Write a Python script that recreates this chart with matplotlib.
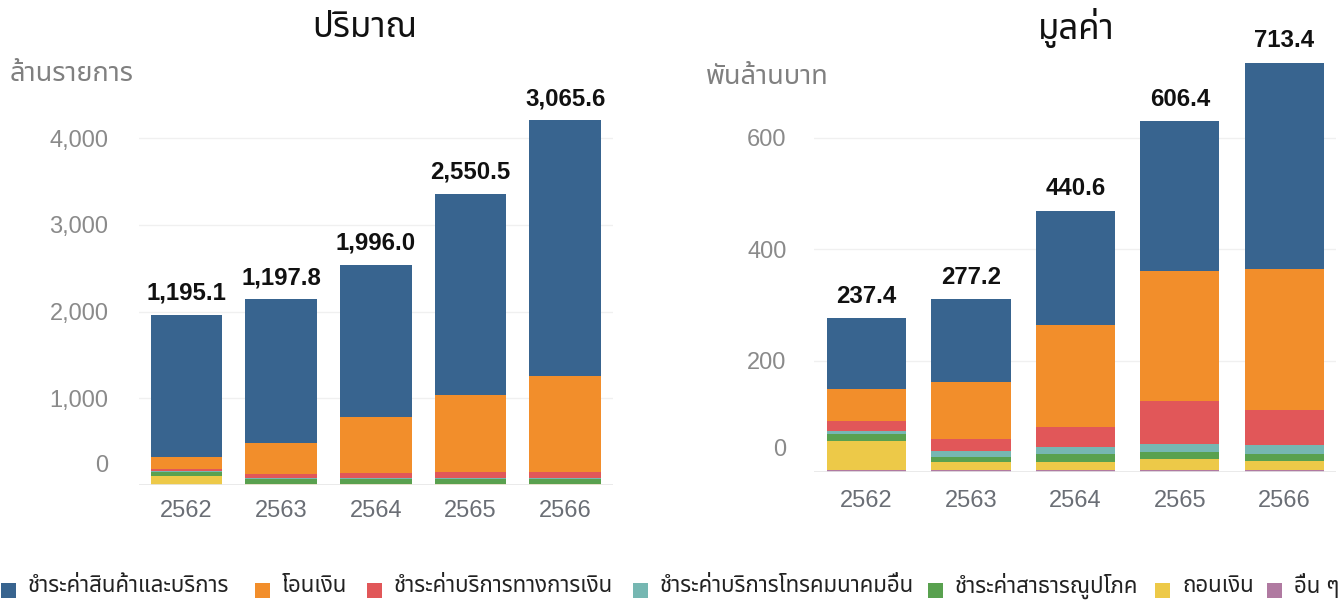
import matplotlib
matplotlib.use("Agg")
import matplotlib.pyplot as plt
from matplotlib import font_manager, ft2font
from matplotlib.patches import Rectangle
from matplotlib.transforms import ScaledTranslation
import numpy as np

# ---------------- data ----------------
years = ["2562", "2563", "2564", "2565", "2566"]
series_names = ["ชำระค่าสินค้าและบริการ", "โอนเงิน", "ชำระค่าบริการทางการเงิน",
                "ชำระค่าบริการโทรคมนาคมอื่น", "ชำระค่าสาธารณูปโภค", "ถอนเงิน", "อื่น ๆ"]
colors = ["#38648f", "#f28e2b", "#e15759", "#76b7b2", "#59a14f", "#edc948", "#b07aa1"]

# volume (million transactions)
vol_other    = [1, 1, 1, 1, 1]
vol_withdraw = [103, 14, 11, 11, 11]
vol_utility  = [50, 55, 58, 58, 54]
vol_telecom  = [10, 12, 12, 12, 12]
vol_finserv  = [18, 46, 58, 73, 69]
vol_transfer = [142, 354, 648, 888, 1110]
vol_goods    = [1638, 1660, 1750, 2320, 2950]
vol_labels   = ["1,195.1", "1,197.8", "1,996.0", "2,550.5", "3,065.6"]

# value (billion baht)
val_other    = [3.5, 3.5, 3.5, 3.5, 3.5]
val_withdraw = [52.5, 14.3, 14.3, 19.7, 17.3]
val_utility  = [13.2, 10.2, 15.5, 12.5, 12.5]
val_telecom  = [4.7, 10.2, 12.0, 14.9, 14.9]
val_finserv  = [18.0, 20.9, 35.9, 78.0, 63.3]
val_transfer = [57.4, 103.4, 182.4, 233.0, 253.0]
val_goods    = [126.6, 147.7, 205.5, 268.0, 370.0]
val_labels   = ["237.4", "277.2", "440.6", "606.4", "713.4"]

vol_ticks = [0, 1000, 2000, 3000, 4000]
vol_ticklabels = ["0", "1,000", "2,000", "3,000", "4,000"]
val_ticks = [0, 200, 400, 600]
val_ticklabels = ["0", "200", "400", "600"]

# ---------------- fonts ----------------
thai_font = None
prefs = []
for f in font_manager.fontManager.ttflist:
    try:
        cmap = ft2font.FT2Font(f.fname).get_charmap()
    except Exception:
        continue
    if 0x0E1B in cmap and 0x0E33 in cmap:
        prefs.append(f.name)
for cand in ["Noto Sans Thai", "Noto Sans Thai UI", "Sarabun", "Kanit", "Prompt", "Loma", "Garuda", "Norasi"]:
    if cand in prefs:
        thai_font = cand
        break
if thai_font is None and prefs:
    thai_font = prefs[0]
thai_family = ([thai_font] if thai_font else []) + ["DejaVu Sans"]
num_family = ["Liberation Sans", "DejaVu Sans"]

plt.rcParams["font.family"] = num_family

W, H = 1342, 600
fig = plt.figure(figsize=(W / 100, H / 100), dpi=100)

def px_axes(x0, x1, ybot, ytop):
    return fig.add_axes([x0 / W, 1 - ybot / H, (x1 - x0) / W, (ybot - ytop) / H])

ax1 = px_axes(139, 612.5, 485, 100)
ax2 = px_axes(814.4, 1336.4, 472.3, 55)

vol_stack = [vol_goods, vol_transfer, vol_finserv, vol_telecom, vol_utility, vol_withdraw, vol_other]
val_stack = [val_goods, val_transfer, val_finserv, val_telecom, val_utility, val_withdraw, val_other]

def draw(ax, stack, labels, ticks, ticklabels, ymax, zero_shift_px, xpad, ypad):
    x = np.arange(len(years))
    bottom = np.zeros(len(years))
    for vals, col in reversed(list(zip(stack, colors))):
        ax.bar(x, vals, width=0.757, bottom=bottom, color=col, linewidth=0, zorder=3)
        bottom = bottom + np.array(vals)
    for xi, top, lab in zip(x, bottom, labels):
        ax.annotate(lab, (xi, top), xytext=(0, 11), textcoords="offset points",
                    ha="center", va="baseline", fontsize=17.3, fontweight="bold",
                    color="#111111", family=num_family)
    ax.set_xlim(-0.5, len(years) - 0.5)
    ax.set_ylim(0, ymax)
    ax.set_xticks(x)
    ax.set_xticklabels(years, fontsize=17, color="#6a6e75")
    ax.set_yticks(ticks)
    ax.set_yticklabels(ticklabels, fontsize=17, color="#8a8a8a")
    ax.tick_params(axis="both", length=0)
    ax.tick_params(axis="y", pad=ypad)
    ax.tick_params(axis="x", pad=xpad)
    for s in ax.spines.values():
        s.set_visible(False)
    for t in ticks[1:]:
        ax.axhline(t, color="#f0f0f0", linewidth=1, zorder=1)
    ax.axhline(0, color="#e6e6e6", linewidth=1.2, zorder=4)
    lbl = ax.get_yticklabels()[0]
    lbl.set_transform(lbl.get_transform() + ScaledTranslation(0, zero_shift_px / 100, fig.dpi_scale_trans))

draw(ax1, vol_stack, vol_labels, vol_ticks, vol_ticklabels, (485 - 100) / 0.086667, 22, 11, 22)
draw(ax2, val_stack, val_labels, val_ticks, val_ticklabels, (472.3 - 55) / 0.5577, 24.5, 13, 20)

# titles and axis unit labels
fig.text(365 / W, 1 - 28 / H, "ปริมาณ", ha="center", va="center", fontsize=25,
         color="#111111", family=thai_family)
fig.text(1076 / W, 1 - 28 / H, "มูลค่า", ha="center", va="center", fontsize=25,
         color="#111111", family=thai_family)
fig.text(10 / W, 1 - 74 / H, "ล้านรายการ", ha="left", va="center", fontsize=19.5,
         color="#808080", family=thai_family)
fig.text(706 / W, 1 - 77 / H, "พันล้านบาท", ha="left", va="center", fontsize=19.5,
         color="#808080", family=thai_family)

# legend (manual layout)
leg_x = [1, 255, 367, 633, 928, 1155, 1267]
for name, col, lx in zip(series_names, colors, leg_x):
    fig.patches.append(Rectangle((lx / W, 1 - 598 / H), 15 / W, 15 / H,
                                 transform=fig.transFigure, facecolor=col, edgecolor="none"))
    fig.text((lx + 27) / W, 1 - 586 / H, name, ha="left", va="center", fontsize=16,
             color="#222222", family=thai_family)

fig.savefig("out.png", dpi=100)
